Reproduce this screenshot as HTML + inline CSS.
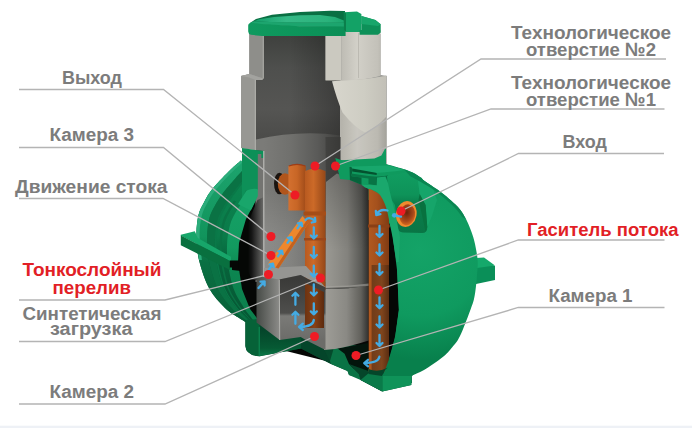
<!DOCTYPE html>
<html><head><meta charset="utf-8">
<style>
html,body{margin:0;padding:0;background:#fff;}
body{width:692px;height:428px;overflow:hidden;position:relative;font-family:"Liberation Sans",sans-serif;}
svg{position:absolute;left:0;top:0;}
text{font-family:"Liberation Sans",sans-serif;font-weight:bold;font-size:19.2px;fill:#7c7c7c;}
text.r{fill:#e21f26;}
</style></head><body>
<svg id="s" width="692" height="428" viewBox="0 0 692 428">
<defs>
<radialGradient id="gDome" gradientUnits="userSpaceOnUse" cx="420" cy="250" r="110">
<stop offset="0" stop-color="#14a367"/><stop offset="0.6" stop-color="#0f9a5f"/><stop offset="1" stop-color="#08804c"/>
</radialGradient>
<linearGradient id="gNeckR" gradientUnits="userSpaceOnUse" x1="341" y1="0" x2="387" y2="0">
<stop offset="0" stop-color="#bdbbb3"/><stop offset="0.35" stop-color="#d2d0c8"/><stop offset="0.8" stop-color="#c3c1b9"/><stop offset="1" stop-color="#a9a8a1"/>
</linearGradient>
<linearGradient id="gCyl" gradientUnits="userSpaceOnUse" x1="326" y1="0" x2="369" y2="0">
<stop offset="0" stop-color="#9a9993"/><stop offset="0.5" stop-color="#83827d"/><stop offset="0.82" stop-color="#5a5a56"/><stop offset="1" stop-color="#2c2c2a"/>
</linearGradient>
<linearGradient id="gCylLo" gradientUnits="userSpaceOnUse" x1="324" y1="0" x2="369" y2="0">
<stop offset="0" stop-color="#9f9e98"/><stop offset="0.5" stop-color="#8a8984"/><stop offset="0.82" stop-color="#62615c"/><stop offset="1" stop-color="#2e2e2c"/>
</linearGradient>
<linearGradient id="gPipeD" gradientUnits="userSpaceOnUse" x1="371" y1="0" x2="389" y2="0">
<stop offset="0" stop-color="#703b18"/><stop offset="0.6" stop-color="#7f451d"/><stop offset="1" stop-color="#5a2d11"/>
</linearGradient>
<linearGradient id="gInt" gradientUnits="userSpaceOnUse" x1="0" y1="36" x2="0" y2="140">
<stop offset="0" stop-color="#3f413e"/><stop offset="0.3" stop-color="#4e4f4d"/><stop offset="0.7" stop-color="#555553"/><stop offset="1" stop-color="#4b4b49"/>
</linearGradient>
<linearGradient id="gInt2" gradientUnits="userSpaceOnUse" x1="264" y1="0" x2="341" y2="0">
<stop offset="0" stop-color="#7b7b78"/><stop offset="0.35" stop-color="#70706d"/><stop offset="0.7" stop-color="#5a5a58"/><stop offset="1" stop-color="#3e3e3c"/>
</linearGradient>
<linearGradient id="gLid" gradientUnits="userSpaceOnUse" x1="247" y1="0" x2="383" y2="0">
<stop offset="0" stop-color="#0f9a5f"/><stop offset="0.5" stop-color="#0c9259"/><stop offset="1" stop-color="#0a8a53"/>
</linearGradient>
<linearGradient id="gPipe" gradientUnits="userSpaceOnUse" x1="368" y1="0" x2="390" y2="0">
<stop offset="0" stop-color="#b25a20"/><stop offset="0.4" stop-color="#a5511d"/><stop offset="1" stop-color="#7c3912"/>
</linearGradient>
<linearGradient id="gPipe2" gradientUnits="userSpaceOnUse" x1="305" y1="0" x2="326" y2="0">
<stop offset="0" stop-color="#a8521b"/><stop offset="0.5" stop-color="#b85b1f"/><stop offset="1" stop-color="#8f4416"/>
</linearGradient>
<radialGradient id="gInlet" cx="0.45" cy="0.4" r="0.6">
<stop offset="0" stop-color="#6b240c"/><stop offset="0.7" stop-color="#a9481a"/><stop offset="1" stop-color="#d2681f"/>
</radialGradient>
<linearGradient id="gCh3" gradientUnits="userSpaceOnUse" x1="264" y1="0" x2="306" y2="0">
<stop offset="0" stop-color="#767674"/><stop offset="0.5" stop-color="#626260"/><stop offset="1" stop-color="#444442"/>
</linearGradient>
<linearGradient id="gCh2L" gradientUnits="userSpaceOnUse" x1="256" y1="0" x2="279" y2="0">
<stop offset="0" stop-color="#454945"/><stop offset="1" stop-color="#8a8a87"/>
</linearGradient>
<linearGradient id="gCh2F" gradientUnits="userSpaceOnUse" x1="0" y1="280" x2="0" y2="340">
<stop offset="0" stop-color="#3b3b39"/><stop offset="0.55" stop-color="#4e4e4c"/><stop offset="0.6" stop-color="#7a7a77"/><stop offset="1" stop-color="#6c6c69"/>
</linearGradient>
<linearGradient id="gLeftStrip" gradientUnits="userSpaceOnUse" x1="248" y1="0" x2="263" y2="0">
<stop offset="0" stop-color="#050705"/><stop offset="0.25" stop-color="#161616"/><stop offset="1" stop-color="#676765"/>
</linearGradient>
<linearGradient id="gTeeL" gradientUnits="userSpaceOnUse" x1="288" y1="0" x2="306" y2="0">
<stop offset="0" stop-color="#d47130"/><stop offset="0.5" stop-color="#c86626"/><stop offset="1" stop-color="#a04b19"/>
</linearGradient>
<linearGradient id="gTeeR" gradientUnits="userSpaceOnUse" x1="305" y1="0" x2="326" y2="0">
<stop offset="0" stop-color="#b85a20"/><stop offset="0.4" stop-color="#cc6a28"/><stop offset="1" stop-color="#934617"/>
</linearGradient>
<linearGradient id="gPipeIn" gradientUnits="userSpaceOnUse" x1="305" y1="0" x2="324" y2="0">
<stop offset="0" stop-color="#6d3311"/><stop offset="0.5" stop-color="#874015"/><stop offset="1" stop-color="#5c2a0e"/>
</linearGradient>
<linearGradient id="gLidTop" gradientUnits="userSpaceOnUse" x1="255" y1="0" x2="345" y2="0">
<stop offset="0" stop-color="#14a06a"/><stop offset="0.35" stop-color="#35b986"/><stop offset="0.8" stop-color="#2bb37c"/><stop offset="1" stop-color="#1aa66d"/>
</linearGradient>
<linearGradient id="gRimBase" gradientUnits="userSpaceOnUse" x1="0" y1="160" x2="0" y2="330">
<stop offset="0" stop-color="#0c8851"/><stop offset="0.45" stop-color="#0a7a49"/><stop offset="0.6" stop-color="#07633b"/><stop offset="1" stop-color="#065533"/>
</linearGradient>
<linearGradient id="gRimIn" gradientUnits="userSpaceOnUse" x1="0" y1="180" x2="0" y2="330">
<stop offset="0" stop-color="#17a369"/><stop offset="0.45" stop-color="#129a5f"/><stop offset="0.62" stop-color="#0c8550"/><stop offset="1" stop-color="#0b7d4b"/>
</linearGradient>
<linearGradient id="gPocket" gradientUnits="userSpaceOnUse" x1="0" y1="174" x2="0" y2="233">
<stop offset="0" stop-color="#109c60"/><stop offset="0.35" stop-color="#0e9359"/><stop offset="0.52" stop-color="#0a7d4b"/><stop offset="1" stop-color="#097545"/>
</linearGradient>
<linearGradient id="gBase" gradientUnits="userSpaceOnUse" x1="0" y1="325" x2="0" y2="390">
<stop offset="0" stop-color="#04452a"/><stop offset="1" stop-color="#06512f"/>
</linearGradient>
<linearGradient id="gBaseF" gradientUnits="userSpaceOnUse" x1="0" y1="330" x2="0" y2="356">
<stop offset="0" stop-color="#04452a"/><stop offset="0.7" stop-color="#065a34"/><stop offset="1" stop-color="#0a7848"/>
</linearGradient>
<linearGradient id="gRimOut" gradientUnits="userSpaceOnUse" x1="0" y1="160" x2="0" y2="330">
<stop offset="0" stop-color="#1da46e"/><stop offset="0.45" stop-color="#11945c"/><stop offset="0.6" stop-color="#0a7043"/><stop offset="1" stop-color="#075d36"/>
</linearGradient>
<linearGradient id="gBeige" gradientUnits="userSpaceOnUse" x1="332" y1="0" x2="386" y2="0">
<stop offset="0" stop-color="#d8d6cd"/><stop offset="0.6" stop-color="#cecdc3"/><stop offset="1" stop-color="#c2c0b7"/>
</linearGradient>
<linearGradient id="gIntShade" gradientUnits="userSpaceOnUse" x1="290" y1="0" x2="341" y2="0">
<stop offset="0" stop-color="#000" stop-opacity="0"/><stop offset="1" stop-color="#000" stop-opacity="0.28"/>
</linearGradient>
<linearGradient id="gCh3Lt" gradientUnits="userSpaceOnUse" x1="0" y1="190" x2="0" y2="240">
<stop offset="0" stop-color="#fff" stop-opacity="0"/><stop offset="1" stop-color="#fff" stop-opacity="0.13"/>
</linearGradient>
<linearGradient id="gCylSh" gradientUnits="userSpaceOnUse" x1="0" y1="176" x2="0" y2="250">
<stop offset="0" stop-color="#000" stop-opacity="0.22"/><stop offset="1" stop-color="#000" stop-opacity="0"/>
</linearGradient>

</defs>
<rect x="0" y="425.7" width="692" height="2.3" fill="#eef1f6"/>
<!--TANK-->
<g id="tank">
<!-- right lug -->
<polygon points="476,259 495,266 495,280 476,284" fill="#0a8f58"/>
<polygon points="476,258 484,257.5 495,265.5 477,268" fill="#15a96b"/>
<!-- right dome -->
<path d="M386.0,164.0 C388.9,164.8 398.6,167.4 403.4,169.0 C408.2,170.6 411.1,171.6 415.0,173.8 C418.9,176.1 422.4,179.5 426.7,182.5 C431.0,185.5 436.6,188.9 440.7,191.9 C444.8,194.9 447.8,197.6 451.0,200.5 C454.2,203.4 457.5,206.3 460.0,209.4 C462.5,212.5 464.1,215.2 466.0,219.0 C467.9,222.8 470.0,227.8 471.5,232.0 C473.0,236.2 474.0,239.2 475.0,244.0 C476.0,248.8 477.4,255.8 477.7,261.0 C478.0,266.2 477.3,270.8 477.0,275.0 C476.7,279.2 476.5,282.0 476.0,286.0 C475.5,290.0 475.0,294.8 474.0,299.0 C473.0,303.2 472.3,304.8 470.0,311.0 C467.7,317.2 463.0,329.9 460.0,336.0 C457.0,342.1 454.9,344.0 452.0,347.5 C449.1,351.0 447.5,353.2 442.8,357.0 C438.1,360.8 429.2,366.9 424.0,370.0 C418.8,373.1 413.8,374.6 411.8,375.5 L412,383 L381,389 L340,366 L340,160 Z" fill="url(#gDome)"/>
<!-- left green rim + base -->
<!--RIM-->
<path d="M241.0,160.5 C238.9,162.4 233.3,166.9 228.5,171.7 C223.7,176.5 216.0,184.5 212.0,189.5 C208.0,194.5 206.8,197.2 204.5,201.5 C202.2,205.8 199.8,209.4 198.5,215.0 C197.2,220.6 196.4,227.5 196.5,235.0 C196.6,242.5 196.8,251.0 199.0,260.0 C201.2,269.0 205.2,281.1 209.5,289.0 C213.8,296.9 220.2,303.1 224.5,307.5 C228.8,311.9 231.6,313.2 235.1,315.6 C238.6,318.0 243.7,320.9 245.4,322.0 L260.3,324.0 C259.9,323.0 259.2,320.2 257.9,317.5 C256.7,314.9 255.3,312.8 253.1,308.0 C250.9,303.3 246.7,296.7 244.7,289.0 C242.7,281.3 241.4,269.7 240.8,262.0 C240.3,254.4 240.7,248.8 241.4,243.2 C242.1,237.5 243.7,232.2 244.9,228.3 C246.2,224.3 247.3,222.3 248.9,219.3 C250.4,216.4 252.8,213.7 254.3,210.4 C255.9,207.1 257.4,202.5 258.1,199.5 C258.7,196.6 258.1,193.8 258.1,192.6 Z" fill="url(#gRimBase)" />
<path d="M241.0,160.5 C238.9,162.4 233.3,166.9 228.5,171.7 C223.7,176.5 216.0,184.5 212.0,189.5 C208.0,194.5 206.8,197.2 204.5,201.5 C202.2,205.8 199.8,209.4 198.5,215.0 C197.2,220.6 196.4,227.5 196.5,235.0 C196.6,242.5 196.8,251.0 199.0,260.0 C201.2,269.0 205.2,281.1 209.5,289.0 C213.8,296.9 220.2,303.1 224.5,307.5 C228.8,311.9 231.6,313.2 235.1,315.6 C238.6,318.0 243.7,320.9 245.4,322.0 L248.9,322.5 C247.5,321.4 243.4,318.5 240.5,316.1 C237.5,313.6 235.0,312.1 231.2,307.6 C227.4,303.1 221.5,296.9 217.8,289.0 C214.1,281.1 210.6,269.2 208.8,260.5 C207.1,251.8 207.0,244.0 207.1,236.9 C207.2,229.9 208.1,223.3 209.4,218.1 C210.7,212.9 212.8,209.6 214.9,205.7 C217.0,201.8 218.5,199.0 222.0,194.4 C225.4,189.8 231.6,182.6 235.5,178.3 C239.3,173.9 243.4,169.8 245.0,168.1 Z" fill="url(#gRimOut)" />
<path d="M241.0,160.5 C238.9,162.4 233.3,166.9 228.5,171.7 C223.7,176.5 216.0,184.5 212.0,189.5 C208.0,194.5 206.8,197.2 204.5,201.5 C202.2,205.8 199.8,209.4 198.5,215.0 C197.2,220.6 196.4,227.5 196.5,235.0 C196.6,242.5 198.6,255.8 199.0,260.0 L201.9,260.1 C201.5,256.0 199.6,242.9 199.6,235.6 C199.5,228.2 200.4,221.4 201.7,215.9 C203.0,210.4 205.3,206.9 207.5,202.7 C209.7,198.6 211.1,195.8 214.9,190.9 C218.7,186.1 226.0,178.3 230.5,173.6 C235.1,168.9 240.2,164.5 242.2,162.7 Z" fill="#2bad7b" />
<path d="M245.0,168.1 C243.4,169.8 239.3,173.9 235.5,178.3 C231.6,182.6 225.4,189.8 222.0,194.4 C218.5,199.0 217.0,201.8 214.9,205.7 C212.8,209.6 210.7,212.9 209.4,218.1 C208.1,223.3 207.2,229.9 207.1,236.9 C207.0,244.0 207.1,251.8 208.8,260.5 C210.6,269.2 214.1,281.1 217.8,289.0 C221.5,296.9 227.4,303.1 231.2,307.6 C235.0,312.1 237.5,313.6 240.5,316.1 C243.4,318.5 247.5,321.4 248.9,322.5 L251.5,322.8 C250.4,321.8 247.1,318.9 244.5,316.4 C242.0,313.9 239.7,312.3 236.3,307.7 C232.8,303.1 227.3,296.8 224.0,289.0 C220.7,281.2 217.7,269.3 216.2,260.8 C214.7,252.4 214.7,245.1 215.0,238.4 C215.2,231.6 216.3,225.4 217.6,220.5 C218.9,215.5 220.8,212.6 222.8,208.8 C224.7,205.1 226.4,202.4 229.4,198.1 C232.4,193.8 237.6,187.2 240.7,183.2 C243.8,179.1 246.8,175.3 248.1,173.7 Z" fill="#0a7244" />
<path d="M248.1,173.7 C246.8,175.3 243.8,179.1 240.7,183.2 C237.6,187.2 232.4,193.8 229.4,198.1 C226.4,202.4 224.7,205.1 222.8,208.8 C220.8,212.6 218.9,215.5 217.6,220.5 C216.3,225.4 215.2,231.6 215.0,238.4 C214.7,245.1 214.7,252.4 216.2,260.8 C217.7,269.3 220.7,281.2 224.0,289.0 C227.3,296.8 232.8,303.1 236.3,307.7 C239.7,312.3 242.0,313.9 244.5,316.4 C247.1,318.9 250.4,321.8 251.5,322.8 L252.1,322.9 C251.0,321.8 247.9,319.0 245.4,316.5 C242.9,313.9 240.7,312.3 237.4,307.7 C234.0,303.2 228.6,296.8 225.4,289.0 C222.1,281.2 219.3,269.3 217.9,260.9 C216.4,252.5 216.5,245.3 216.7,238.7 C217.0,232.0 218.1,225.8 219.4,221.0 C220.7,216.1 222.6,213.2 224.5,209.6 C226.5,205.9 228.2,203.1 231.1,198.9 C234.0,194.7 238.9,188.2 241.8,184.3 C244.8,180.3 247.6,176.5 248.7,175.0 Z" fill="#0a7848" />
<path d="M234.0,200.4 C232.9,202.1 229.5,207.2 227.6,210.8 C225.7,214.4 223.9,217.1 222.6,221.9 C221.3,226.6 220.1,232.7 219.8,239.2 C219.5,245.8 219.4,252.8 220.7,261.1 C222.1,269.4 224.7,281.2 227.8,289.0 C230.9,296.8 236.1,303.2 239.3,307.8 C242.5,312.4 244.7,314.1 247.0,316.6 C249.3,319.2 252.1,322.0 253.1,323.1 L253.9,323.2 C252.9,322.1 250.3,319.3 248.1,316.7 C245.9,314.1 243.8,312.4 240.7,307.8 C237.6,303.2 232.5,296.8 229.5,289.0 C226.5,281.2 224.0,269.4 222.8,261.2 C221.5,252.9 221.7,246.1 222.0,239.6 C222.4,233.2 223.6,227.2 224.9,222.5 C226.2,217.9 227.9,215.2 229.7,211.7 C231.6,208.1 235.0,203.1 236.1,201.4 Z" fill="#0a7244" />
<path d="M248.8,190.8 C247.5,193.0 243.4,200.0 241.1,203.8 C238.7,207.7 236.7,210.4 234.9,213.8 C233.2,217.1 231.6,219.6 230.3,224.1 C229.1,228.6 227.7,234.4 227.3,240.6 C226.9,246.8 226.6,253.3 227.7,261.4 C228.8,269.5 230.9,281.3 233.7,289.0 C236.4,296.7 241.2,303.2 244.1,307.9 C247.0,312.5 248.9,314.3 250.8,316.9 C252.7,319.5 254.8,322.3 255.6,323.4 L260.3,324.0 C259.9,323.0 259.2,320.2 257.9,317.5 C256.7,314.9 255.3,312.8 253.1,308.0 C250.9,303.3 246.7,296.7 244.7,289.0 C242.7,281.3 241.4,269.7 240.8,262.0 C240.3,254.4 240.7,248.8 241.4,243.2 C242.1,237.5 243.7,232.2 244.9,228.3 C246.2,224.3 247.3,222.3 248.9,219.3 C250.4,216.4 252.8,213.7 254.3,210.4 C255.9,207.1 257.5,201.4 258.1,199.5 Z" fill="url(#gRimIn)" />
<!--/RIM-->
<!-- left lug -->
<polygon points="180.8,234.8 194.8,231.3 197.8,238 231,256.8 231,261.5 180.8,235.8" fill="#17a66a"/>
<polygon points="180.8,235.6 230,261 230,270 198.3,254 180.8,245.3" fill="#09703f"/>
<path d="M229.8,260.5 L241,260.5 L241,271 L232,270 L232,267.5 L229.8,267.5 Z" fill="#050705"/>
<!-- black interior -->
<path d="M256,200 L246,219 L239,243 L238,262 L239,269 L242,289 L250,309 L260,322 L262,345 L330,362 L385,372 L395,338 L399,310 L397,270 L392,230 L380,200 Z" fill="#050705"/>
<!-- base -->
<path d="M245.4,320 L245.4,346 Q246,355.5 260,356.3 L301,348.5 L331,364 L347.5,371 L349,375 L359,377.8 L360.6,380 L382.3,391.5 L411.3,385 L411.3,376 L395,372 L368,372 L368,345 L324,345 L300,335 L280,335 L258,320 Z" fill="url(#gBase)"/>
<path d="M245.4,320 L245.4,346 Q246,355.5 260,356.3 L260,327 L258,319 Z" fill="#066238"/>
<path d="M260,327 L280,339 L301,336 L301,348.5 L260,356 Z" fill="url(#gBaseF)"/>
<path d="M301,336 L324,349 L331,364 L301,348.5 Z" fill="#04452a"/>
<path d="M259.2,327 L259.2,356" stroke="#0e8f56" stroke-width="1" fill="none"/>
<path d="M335,349 L368,343 L368.5,372 L349,368 L340,352 Z" fill="#03150c"/>
<path d="M330,361 L333.8,348 L336,347.3 L344.6,353.8 L349,364 L359,374 L360.6,380 L349,375 L347.5,371 L331,364 Z" fill="#0a7345"/>
<path d="M349,364 L368.5,371 L383,372 L382.3,391.5 L360.6,380 L359,374 Z" fill="#05462a"/>
<path d="M360.6,380 L382.3,391.5 L382.3,374 L370,372 Z" fill="#0a7a49"/>
<path d="M382.3,374 L411.3,375 L411.3,385 L382.3,391.5 Z" fill="#0f9359"/>
<!-- neck outer base (wall gray) -->
<path d="M249.5,34 L380.5,34 L380.5,75 L386.5,76 L386.5,164 L340,160 L256,150 L241,148 L241,76 L249.5,74 Z" fill="#8f8f8c"/>
<!-- interior dark upper -->
<path d="M263.5,36 L325.5,36 L325.5,80 L341,80 L341,200 L256,200 L256,80 L263.5,79 Z" fill="url(#gInt)"/>
<path d="M290,36 L325.5,36 L325.5,80 L341,80 L341,140 L290,140 Z" fill="url(#gIntShade)"/>
<!-- interior lower (lighter gray) -->
<path d="M256,139.5 Q300,129.5 341,135.5 L341,282 L263.8,282 L263.8,151 L256,150 Z" fill="url(#gInt2)"/>
<!-- neck right upper -->
<rect x="325.5" y="34" width="16" height="46.5" fill="#cbc9c0"/>
<path d="M341.5,30 L380.5,30 L380.5,76 Q360,81 341.5,80.5 Z" fill="url(#gNeckR)"/>
<rect x="358" y="33" width="1" height="45" fill="#b3b1a9" opacity="0.7"/>
<!-- neck right lower outer -->
<path d="M340,80.5 Q365,80 386.5,75.5 L386.5,164 L340,160 Z" fill="url(#gNeckR)" />
<path d="M340,80.5 Q365,80 386.5,75.5 L386.5,164 L340,160 Z" fill="#000" opacity="0.04"/>
<!-- beige cutaway -->
<path d="M332,81.3 L341,80.5 Q365,80 386,76 L386,117 Q377,127 365,132.5 Q355,128 342.5,112.5 Q337,100 332,81.3 Z" fill="url(#gBeige)"/>
<!-- left wall -->
<rect x="249.2" y="34" width="14.3" height="45" fill="#8e8e8a"/><rect x="262.8" y="36" width="0.9" height="42" fill="#b2b2ad"/>
<path d="M241,76 L249.5,74 L263.5,78.5 L262,80 L255.6,80 L255.6,150 L241,148 Z" fill="#979793"/><rect x="254.8" y="80" width="0.9" height="70" fill="#b5b5b0"/>
<path d="M241,76 L249.5,74 L263.5,78.5 L262,80 L255.6,80 L249,77.5 Z" fill="#a3a39f"/>
<!-- lid -->
<path d="M250,23 L256,19 L272,14.8 L300,12 L330,10.8 L345,11 L345,27 L300,26.5 L262,24.5 Z" fill="#0a6f43"/>
<path d="M250,23 L254,21.3 L270,22 L300,22.5 L345,22.8 L345,27 L300,26.5 L262,24.5 Z" fill="#1ca56e"/>
<path d="M254,21.3 L259,19.3 L274,17 L300,15.3 L320,15 L335,17 L343.9,20.5 L343.9,22.8 L300,22.5 L270,22 Z" fill="url(#gLidTop)"/>
<path d="M248.2,25.5 Q248.5,22.5 252,22.7 L262,24 L300,26.2 L345.6,26.6 L345.6,36 L262,36 L251,34.8 Q248.2,34 248.2,31.5 Z" fill="url(#gLid)"/>
<path d="M343.9,12.3 L357,11.5 L361.4,14 L361.4,32 L346,32 L343.9,30 Z" fill="#13a266"/>
<path d="M343.9,12.3 L346,13 L346,32 L343.9,30 Z" fill="#0b7f4c"/>
<path d="M361.4,16 L375.4,20 L380.7,24.3 L380.7,32.5 L378,34.8 L359.6,34.8 L359.6,30 L361.4,30 Z" fill="#0d9058"/>
<path d="M361.4,16 L375.4,20 L380.7,24.3 L378,26 L361.4,24 Z" fill="#18a66b"/>
<!-- green collar left -->
<rect x="255.5" y="151" width="8.3" height="131" fill="#747471"/>
<polygon points="242,148 255.5,150 263.8,151 263.8,158 261.3,158 261.3,154 257.8,154 257.8,190 246,190 242,200" fill="#0d9058"/>
<path d="M246.5,190.5 Q252,188 257.8,189 L257.8,196 L256,200 L250.8,210.4 L238,204 Z" fill="#19a66b"/>
<!-- gray cylinder (chamber) right -->
<path d="M325.5,137 L341,137 L341,176 L326,182 Z" fill="#343432" opacity="0.5"/>
<path d="M326,182 L337,173.5 L342,176 L368.7,186 L368.7,286 L325.2,288 Z" fill="url(#gCyl)"/>
<path d="M326,182 L337,173.5 L342,176 L368.7,186 L368.7,250 L325.5,250 Z" fill="url(#gCylSh)"/>
<path d="M323.8,289 Q345,289.5 368.7,285.5 L368.7,340.5 Q350,346.5 335,349 L324,350 Z" fill="url(#gCylLo)"/>
<path d="M325.2,286 Q346,286.5 368.7,283.5 L368.7,285.8 Q346,289.5 323.8,289.2 Z" fill="#a9a8a2" opacity="0.55"/>
<!-- green collar right -->
<path d="M335.3,158 L341.7,160.2 L374.4,158.4 L381.4,155.5 L384.9,149 L386,148.5 L386,164.3 L404.8,170 L410,172 L422,178 L428,200 L388,202 L362,184.7 L349.9,180 L340,179 Z" fill="#0f9a5e"/>
<path d="M349.5,167 L352,167 L352,176.3 L361.5,177.5 L361.5,184.7 L349.9,180 Z" fill="#06633b"/>
<path d="M351,166.6 L388.4,165.4 L404.8,170 L395.4,171.3 L376.7,173 L353.4,170 Z" fill="#18a76c"/>
<path d="M352.2,168.4 L374.4,172.5 L376.7,173 L376.7,175 L352.2,171.6 Z" fill="#04522f"/>
<path d="M351,173.6 L368.5,176 L387.5,177.5 L388.5,200 L384,192 L376.7,185.6 L368.5,184 L368.5,178.5 L351,176.3 Z" fill="#087445"/>
<path d="M376,177 L388,175.5 L389,200 L384,192 L376.7,186 Z" fill="#077043"/>
<!-- pocket -->
<path d="M387,176 L409,172 L417.4,176.7 L419.7,194 L425.6,205 L427.3,227 Q427.5,233 422,233 L403,232.5 Q398,232 397.5,227 L395,205 L388.4,195 Z" fill="url(#gPocket)"/>
<path d="M417.4,176.7 L432,186 L437,200 L432,216 L427.3,227 L425.6,205 L419.7,194 Z" fill="#16a56a"/>
<path d="M419.7,194 L425.6,205 L427.3,227 L425.5,231.5 L422,215 L418.5,200 Z" fill="#08713f"/>
<!-- dome top darker strip -->
<path d="M404.0,169.2 C405.8,170.0 411.2,171.6 415.0,173.8 C418.8,176.0 422.4,179.5 426.7,182.5 C431.0,185.5 436.6,188.9 440.7,191.9 C444.8,194.9 447.8,197.6 451.0,200.5 C454.2,203.4 457.5,206.3 460.0,209.4 C462.5,212.5 465.0,217.4 466.0,219.0 L462.0,217.0 C461.0,215.7 458.7,211.9 456.0,209.0 C453.3,206.1 449.7,202.7 446.0,199.5 C442.3,196.3 438.3,193.0 434.0,190.0 C429.7,187.0 424.0,183.8 420.0,181.5 C416.0,179.2 411.7,176.9 410.0,176.0 Z" fill="#0a8652"/>
<!-- brown pipe right -->
<path d="M368.7,188 L387,198 L389,215 L389,372 L368.7,372 Z" fill="url(#gPipe)"/>
<path d="M371.6,265 L389,265 L389,372 L371.6,372 Z" fill="url(#gPipeD)"/>
<rect x="368" y="224.5" width="21.7" height="3" fill="#8a4016"/>
<!-- dome front overlay -->
<path d="M397,262 L398.8,310 L395.4,335 L391,353.8 L385.2,369.8 L382,376 L412,376 L430,360 L430,262 Z" fill="url(#gDome)"/>
<path d="M368.5,369 Q378,373 388,367.5 L385.2,369.8 L382,376 L368.5,374 Z" fill="#05462a"/>
<!-- tank wall section band -->
<path d="M361.5,184.7 L365,187.6 L368.7,188.7 Q376,190 380,195 Q385,202 387.5,212.5 L392.5,237 L396.5,262 L398.8,262 L400,237 L395,212.5 L390,192.5 L388,183 L385.5,176.5 L377,177.5 L376.7,185.3 Z" fill="#1aa86d"/>
<!-- inlet -->
<ellipse cx="406.3" cy="214" rx="10.3" ry="13" fill="#f08a2e" transform="rotate(10 406.3 214)"/>
<ellipse cx="407.3" cy="214.8" rx="7.8" ry="10.5" fill="url(#gInlet)" transform="rotate(10 407.3 214.8)"/>
<rect x="264" y="190" width="41" height="92" fill="url(#gCh3Lt)"/>
<!-- chamber 3 left strip -->
<path d="M252,213 L257.5,200 L263.8,197 L263.8,280 L252,280 L244,262 L242,240 Z" fill="url(#gLeftStrip)"/>
<line x1="263.8" y1="151" x2="263.8" y2="277" stroke="#c9c9c5" stroke-width="1"/>
<!-- outlet elbow -->
<ellipse cx="279.5" cy="183.5" rx="5.5" ry="10.8" fill="#1a1410"/>
<ellipse cx="285" cy="184" rx="7.2" ry="10.8" fill="#b0551c"/>
<!-- tee pipes -->
<path d="M288.4,166 Q297,162.5 305.8,166 L305.8,210.5 L288.4,210.5 Z" fill="url(#gTeeL)"/>
<path d="M288.8,166 Q297,162.8 305.4,166" stroke="#9c3d17" stroke-width="1.3" fill="none"/>
<path d="M305,171 Q315,166 325.5,171 L325.5,290 L305,290 Z" fill="url(#gTeeR)"/>
<rect x="303.5" y="211.5" width="22.5" height="4" fill="#a54d18"/>
<rect x="304" y="238" width="22" height="2.5" fill="#99461a"/>
<!-- chamber 3 floor -->
<path d="M264,268 L306,266 L325.5,287.5 L308,279 L300.7,275 L279,279.5 L264,277 Z" fill="#959592"/>
<!-- chamber 2 box -->
<path d="M256.5,276 L279,279.5 L279.7,340 L256.5,322.5 Z" fill="url(#gCh2L)"/>
<path d="M279,279.5 L300.7,275 L308,279 L325.5,287.5 L325.5,350 L305.8,340 L300.7,337 L279.7,340 Z" fill="url(#gCh2F)"/>
<line x1="279.3" y1="279.5" x2="279.7" y2="340" stroke="#b5b5b1" stroke-width="1"/>
<!-- inner pipe in chamber 2 -->
<path d="M305,283 L324,292 L324,328 L305,328 Z" fill="url(#gPipeIn)"/>
<!-- diagonal orange pipe -->
<path d="M302.5,216 L308.5,223 L278.5,268.5 L267.5,264.5 Z" fill="#ee872c"/>
<path d="M306.5,220.5 L308.5,223 L278.5,268.5 L275.5,267.5 Z" fill="#c4621f"/>
<!-- arrows -->
<g stroke="#44abe3" stroke-width="2.3" fill="none" stroke-linecap="round" stroke-linejoin="round">
<path d="M313.8,227.5 L313.8,238.5 M310.8,235.5 L313.8,238.5 L316.8,235.5"/>
<path d="M313.8,247.0 L313.8,258.0 M310.8,255.0 L313.8,258.0 L316.8,255.0"/>
<path d="M313.8,265.7 L313.8,276.7 M310.8,273.7 L313.8,276.7 L316.8,273.7"/>
<path d="M313.8,284.5 L313.8,295.5 M310.8,292.5 L313.8,295.5 L316.8,292.5"/>
<path d="M313.8,303.4 L313.8,314.4 M310.8,311.4 L313.8,314.4 L316.8,311.4"/>
<path d="M295.4,304.8 L295.4,292.8 M298.4,295.8 L295.4,292.8 L292.4,295.8"/>
<path d="M295.4,323.8 L295.4,311.8 M298.4,314.8 L295.4,311.8 L292.4,314.8"/>
<path d="M313.8,320 Q313,327 299.5,326.8 M302.8,323.6 L299,326.8 L302.8,330"/>
<path d="M379.5,226.0 L379.5,237.0 M376.5,234.0 L379.5,237.0 L382.5,234.0"/>
<path d="M379.5,244.5 L379.5,255.5 M376.5,252.5 L379.5,255.5 L382.5,252.5"/>
<path d="M379.5,264.0 L379.5,275.0 M376.5,272.0 L379.5,275.0 L382.5,272.0"/>
<path d="M379.5,297.3 L379.5,308.3 M376.5,305.3 L379.5,308.3 L382.5,305.3"/>
<path d="M379.5,316.5 L379.5,327.5 M376.5,324.5 L379.5,327.5 L382.5,324.5"/>
<path d="M379.5,335.0 L379.5,346.0 M376.5,343.0 L379.5,346.0 L382.5,343.0"/>
<path d="M379.4,356.7 Q378.5,363 364.8,363 M368,359.8 L364.2,363.1 L368,366.3"/>
<path d="M387.5,210.5 Q380,208.5 376.8,214 M375.8,210.8 L376.3,215 L380.4,214.2"/>
<path d="M394.3,215.3 L401,216.5"/>
<path d="M297.5,228.4 L301.5,222.6 M302.2,226.2 L301.5,222.6 L297.9,223.3"/>
<path d="M287.5,242.9 L291.5,237.1 M292.2,240.7 L291.5,237.1 L287.9,237.8"/>
<path d="M278.0,256.4 L282.0,250.6 M282.7,254.2 L282.0,250.6 L278.4,251.3"/>
<path d="M269.0,269.4 L273.0,263.6 M273.7,267.2 L273.0,263.6 L269.4,264.3"/>
<path d="M305.5,220 Q309,216 314.5,220.5 M311.8,222.5 L315.3,221.6 L315,218"/>
<path d="M258.5,288.0 L264.6,281.4 M264.6,285.5 L264.6,281.4 L260.5,281.7"/>
<circle cx="394.3" cy="215.3" r="2.4" fill="#44abe3" stroke="none"/>
</g>

</g><!--/TANK-->
<!--LINES-->
<g id="lines" fill="none" stroke="#b4b4b4" stroke-width="1.3">
<polyline points="19,89.5 163.5,89.5 295,195"/>
<polyline points="19,147.5 163.5,147.5 271,236.5"/>
<polyline points="19,198.5 163,198.5 271,255.5"/>
<polyline points="19,300 165,300 268.5,274.5"/>
<polyline points="19,341.5 165,341.5 320.5,278"/>
<polyline points="19,404 165,404 314.5,336.5"/>
<polyline points="666,59 481,59 315,166"/>
<polyline points="664.5,109 491,109 335.5,166"/>
<polyline points="664,153.5 518.5,153.5 401,211"/>
<polyline points="664.5,240 518.3,240 378.5,290"/>
<polyline points="664.5,307.5 518.3,307.5 356,355.5"/>
</g>
<g id="dots" fill="#ee1c25">
<circle cx="295" cy="195" r="4.5"/>
<circle cx="271" cy="236.5" r="4.5"/>
<circle cx="271" cy="255.5" r="4.5"/>
<circle cx="268.5" cy="274.5" r="4.5"/>
<circle cx="320.5" cy="278" r="4.5"/>
<circle cx="314.5" cy="336.5" r="4.5"/>
<circle cx="315" cy="166" r="4.5"/>
<circle cx="335.5" cy="166" r="4.5"/>
<circle cx="401" cy="211" r="4.5"/>
<circle cx="378.5" cy="290" r="4.5"/>
<circle cx="356" cy="355.5" r="4.5"/>
</g>
<!--LABELS-->
<g id="labels">
<text x="62" y="83.6" textLength="60" lengthAdjust="spacingAndGlyphs">Выход</text>
<text x="49.5" y="141.1" textLength="84.5" lengthAdjust="spacingAndGlyphs">Камера 3</text>
<text x="15" y="193.1" textLength="152.5" lengthAdjust="spacingAndGlyphs">Движение стока</text>
<text class="r" x="22.5" y="276.1" textLength="139" lengthAdjust="spacingAndGlyphs">Тонкослойный</text>
<text class="r" x="52.5" y="293.6" textLength="78.5" lengthAdjust="spacingAndGlyphs">перелив</text>
<text x="22.5" y="320.1" textLength="139" lengthAdjust="spacingAndGlyphs">Синтетическая</text>
<text x="50" y="335.1" textLength="82.5" lengthAdjust="spacingAndGlyphs">загрузка</text>
<text x="49.5" y="397.6" textLength="84.5" lengthAdjust="spacingAndGlyphs">Камера 2</text>
<text x="511" y="38.6" textLength="160" lengthAdjust="spacingAndGlyphs">Технологическое</text>
<text x="526" y="55.6" textLength="130" lengthAdjust="spacingAndGlyphs">отверстие №2</text>
<text x="511" y="88.6" textLength="160" lengthAdjust="spacingAndGlyphs">Технологическое</text>
<text x="526" y="105.6" textLength="130" lengthAdjust="spacingAndGlyphs">отверстие №1</text>
<text x="562.5" y="148.1" textLength="44.5" lengthAdjust="spacingAndGlyphs">Вход</text>
<text class="r" x="527" y="236.1" textLength="151.5" lengthAdjust="spacingAndGlyphs">Гаситель потока</text>
<text x="548.5" y="302.1" textLength="84" lengthAdjust="spacingAndGlyphs">Камера 1</text>
</g>
</svg>
</body></html>
